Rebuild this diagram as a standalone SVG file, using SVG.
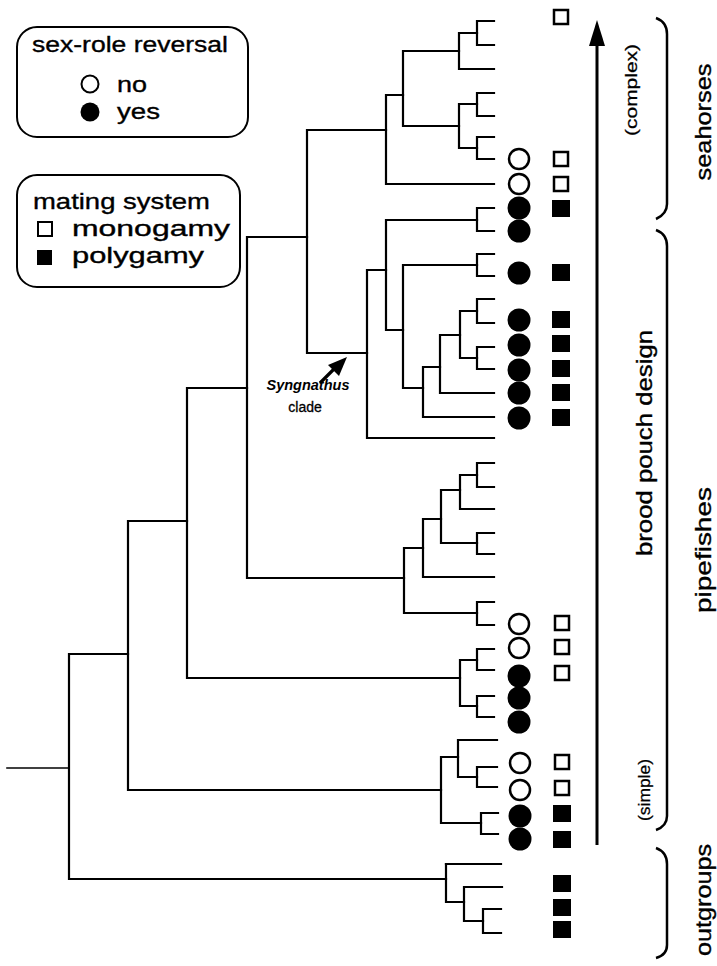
<svg xmlns="http://www.w3.org/2000/svg" width="717" height="966" viewBox="0 0 717 966">
<style>
.br{fill:none;stroke:#000;stroke-width:2.2;stroke-linejoin:miter;stroke-linecap:square}
.t{font-family:"Liberation Sans",Arial,sans-serif;fill:#000}
.hv{stroke:#000;stroke-width:0.35}
.lg{font-size:22px}
.oc{fill:#fff;stroke:#000;stroke-width:2.5}
.fc{fill:#000}
.os{fill:#fff;stroke:#000;stroke-width:2.5}
.fs{fill:#000}
.box{fill:#fff;stroke:#000;stroke-width:2}
.brace{fill:none;stroke:#000;stroke-width:2.5}
</style>
<rect width="717" height="966" fill="#fff"/>

<g id="connectors">
<!-- root -->
<path class="br" d="M7,768H69" style="stroke-width:1.6"/>
<path class="br" d="M128,654H69V879H446"/>
<!-- q3 -->
<path class="br" d="M187,521H128V790H441"/>
<!-- q2 -->
<path class="br" d="M247,388H187V678H460"/>
<!-- q1 -->
<path class="br" d="M307,237H247V578H404"/>
<!-- seahorse + syngnathus -->
<path class="br" d="M386,130H307V353H367"/>
<!-- seahorses -->
<path class="br" d="M403,95H386V184H494"/>
<path class="br" d="M459,51H403V126H459"/>
<path class="br" d="M477,33H459V69H494"/>
<path class="br" d="M494,21H477V45H494"/>
<path class="br" d="M477,104H459V148H477"/>
<path class="br" d="M494,93H477V116H494"/>
<path class="br" d="M494,137H477V159H494"/>
<!-- syngnathus -->
<path class="br" d="M386,270H367V438H494"/>
<path class="br" d="M477,220H386V330H403"/>
<path class="br" d="M494,208H477V231H494"/>
<path class="br" d="M477,265H403V388H423"/>
<path class="br" d="M494,254H477V276H494"/>
<path class="br" d="M440,367H423V417H494"/>
<path class="br" d="M460,335H440V393H494"/>
<path class="br" d="M477,311H460V358H477"/>
<path class="br" d="M494,299H477V323H494"/>
<path class="br" d="M494,347H477V369H494"/>
<!-- pipefish clade A -->
<path class="br" d="M423,548H404V613H477"/>
<path class="br" d="M494,602H477V625H494"/>
<path class="br" d="M441,519H423V577H494"/>
<path class="br" d="M460,490H441V543H477"/>
<path class="br" d="M494,533H477V554H494"/>
<path class="br" d="M477,475H460V509H494"/>
<path class="br" d="M494,463H477V487H494"/>
<!-- pipefish clade B -->
<path class="br" d="M477,660H460V706H477"/>
<path class="br" d="M494,649H477V670H494"/>
<path class="br" d="M494,696H477V717H494"/>
<!-- pipefish clade C -->
<path class="br" d="M458,757H441V823H481"/>
<path class="br" d="M497,740H458V777H477"/>
<path class="br" d="M497,767H477V787H497"/>
<path class="br" d="M498,813H481V834H498"/>
<!-- outgroups -->
<path class="br" d="M501,864H446"/>
<path class="br" d="M446,864V902H464"/>
<path class="br" d="M502,887H464V921H483"/>
<path class="br" d="M501,909H483V933H501"/>
<!-- brood pouch arrow -->
<line x1="597" y1="44" x2="597" y2="845" stroke="#000" stroke-width="3"/>
<polygon points="597,20 589,46 605,46" fill="#000"/>
<!-- Syngnathus arrow -->
<line x1="320" y1="383" x2="334" y2="369" stroke="#000" stroke-width="3.2"/>
<polygon points="347,357 328,365 339,376" fill="#000"/>
<!-- braces -->
<path class="brace" d="M656,18Q667,22 667,34V204Q667,214 656,219"/>
<path class="brace" d="M656,230Q667,234 667,246V816Q667,826 656,830"/>
<path class="brace" d="M656,848Q667,852 667,864V945Q667,955 656,958"/>
</g>

<g id="sex-role-markers">
<circle class="oc" cx="519" cy="159" r="10"/>
<circle class="oc" cx="519" cy="184" r="10"/>
<circle class="fc" cx="519" cy="208" r="11.5"/>
<circle class="fc" cx="519" cy="231" r="11.5"/>
<circle class="fc" cx="519" cy="273" r="11.5"/>
<circle class="fc" cx="519" cy="320" r="11.5"/>
<circle class="fc" cx="519" cy="345" r="11.5"/>
<circle class="fc" cx="519" cy="370" r="11.5"/>
<circle class="fc" cx="519" cy="393" r="11.5"/>
<circle class="fc" cx="519" cy="418" r="11.5"/>
<circle class="oc" cx="519" cy="624" r="10"/>
<circle class="oc" cx="519" cy="648" r="10"/>
<circle class="fc" cx="519" cy="676" r="11.5"/>
<circle class="fc" cx="519" cy="698" r="11.5"/>
<circle class="fc" cx="519" cy="722" r="11.5"/>
<circle class="oc" cx="520" cy="763" r="10"/>
<circle class="oc" cx="520" cy="790" r="10"/>
<circle class="fc" cx="520" cy="816" r="11.5"/>
<circle class="fc" cx="520" cy="839" r="11.5"/>
</g>

<g id="mating-markers">
<rect class="os" x="554" y="10" width="14" height="14"/>
<rect class="os" x="554" y="152" width="14" height="14"/>
<rect class="os" x="554" y="177" width="14" height="14"/>
<rect class="fs" x="552" y="200" width="18" height="17"/>
<rect class="fs" x="552" y="264" width="18" height="17"/>
<rect class="fs" x="552" y="311" width="18" height="17"/>
<rect class="fs" x="552" y="335" width="18" height="17"/>
<rect class="fs" x="552" y="360" width="18" height="17"/>
<rect class="fs" x="552" y="384" width="18" height="17"/>
<rect class="fs" x="552" y="409" width="18" height="17"/>
<rect class="os" x="555" y="616" width="14" height="14"/>
<rect class="os" x="555" y="640" width="14" height="14"/>
<rect class="os" x="555" y="666" width="14" height="14"/>
<rect class="os" x="555" y="755" width="14" height="14"/>
<rect class="os" x="555" y="781" width="14" height="14"/>
<rect class="fs" x="553" y="805" width="18" height="17"/>
<rect class="fs" x="553" y="831" width="18" height="17"/>
<rect class="fs" x="553" y="875" width="18" height="17"/>
<rect class="fs" x="553" y="899" width="18" height="17"/>
<rect class="fs" x="553" y="921" width="18" height="17"/>
</g>

<g id="legend-sex-role">
<rect class="box" x="17" y="27" width="231" height="110" rx="20"/>
<text class="t lg hv" x="32" y="52" textLength="196" lengthAdjust="spacingAndGlyphs">sex-role reversal</text>
<circle cx="90" cy="84" r="8.5" fill="#fff" stroke="#000" stroke-width="2"/>
<text class="t lg hv" x="117" y="92" textLength="30" lengthAdjust="spacingAndGlyphs">no</text>
<circle cx="90" cy="112" r="9.5" fill="#000"/>
<text class="t lg hv" x="117" y="119" textLength="43" lengthAdjust="spacingAndGlyphs">yes</text>
</g>

<g id="legend-mating">
<rect class="box" x="17" y="175" width="223" height="112" rx="20"/>
<text class="t lg hv" x="33" y="209" textLength="177" lengthAdjust="spacingAndGlyphs">mating system</text>
<rect x="38" y="222" width="14" height="14" fill="#fff" stroke="#000" stroke-width="2"/>
<text class="t lg hv" x="72" y="236" textLength="158" lengthAdjust="spacingAndGlyphs">monogamy</text>
<rect x="37" y="250" width="15" height="15" fill="#000"/>
<text class="t lg hv" x="72" y="263" textLength="132" lengthAdjust="spacingAndGlyphs">polygamy</text>
</g>

<g id="syngnathus-label">
<text class="t" x="308" y="390" font-size="14.5" font-style="italic" font-weight="bold" text-anchor="middle">Syngnathus</text>
<text class="t hv" x="305" y="412" font-size="14" text-anchor="middle" style="stroke-width:0.3">clade</text>
</g>

<g id="right-labels">
<text class="t hv" font-size="17" transform="translate(637,90) rotate(-90)" text-anchor="middle" textLength="92" lengthAdjust="spacingAndGlyphs" style="stroke-width:0.25">(complex)</text>
<text class="t hv" font-size="22" transform="translate(652,443) rotate(-90)" text-anchor="middle" textLength="226" lengthAdjust="spacingAndGlyphs">brood pouch design</text>
<text class="t hv" font-size="17" transform="translate(650,790) rotate(-90)" text-anchor="middle" textLength="62" lengthAdjust="spacingAndGlyphs" style="stroke-width:0.25">(simple)</text>
<text class="t hv" font-size="22" transform="translate(711,122) rotate(-90)" text-anchor="middle" textLength="117" lengthAdjust="spacingAndGlyphs">seahorses</text>
<text class="t hv" font-size="22" transform="translate(711,550) rotate(-90)" text-anchor="middle" textLength="126" lengthAdjust="spacingAndGlyphs">pipefishes</text>
<text class="t hv" font-size="22" transform="translate(711,900) rotate(-90)" text-anchor="middle" textLength="112" lengthAdjust="spacingAndGlyphs">outgroups</text>
</g>
</svg>
